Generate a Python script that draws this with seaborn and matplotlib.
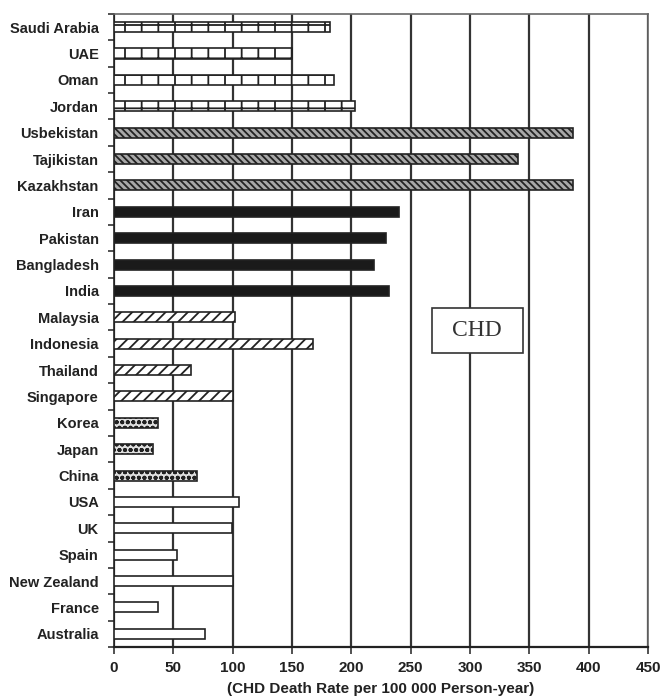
import numpy as np
import pandas as pd
import matplotlib
matplotlib.use("Agg")
import matplotlib.pyplot as plt
import seaborn as sns

countries = ['Saudi Arabia', 'UAE', 'Oman', 'Jordan',
             'Usbekistan', 'Tajikistan', 'Kazakhstan',
             'Iran', 'Pakistan', 'Bangladesh', 'India',
             'Malaysia', 'Indonesia', 'Thailand', 'Singapore',
             'Korea', 'Japan', 'China',
             'USA', 'UK', 'Spain', 'New Zealand', 'France', 'Australia']
death_rate = [182, 150, 185, 203,
              387, 340, 387,
              240, 229, 219, 232,
              102, 168, 65, 100,
              37, 33, 70,
              105, 99, 53, 100, 37, 77]
region = ['Middle East'] * 4 + ['Central Asia'] * 3 + ['South Asia'] * 4 + \
         ['South-East Asia'] * 4 + ['East Asia'] * 3 + ['West'] * 6

region_style = {
    'Middle East': ('white', '+'),
    'Central Asia': ('#a8a8a8', '\\\\\\\\\\'),
    'South Asia': ('#1a1a1a', ''),
    'South-East Asia': ('white', '///'),
    'East Asia': ('#e0e0e0', 'ooo'),
    'West': ('white', ''),
}

df = pd.DataFrame({'country': countries, 'rate': death_rate, 'region': region})

sns.set_style('white')
plt.rcParams['font.family'] = ['Liberation Sans', 'DejaVu Sans']
plt.rcParams['hatch.linewidth'] = 1.3
plt.rcParams['hatch.color'] = '#222222'

fig = plt.figure(figsize=(6.64, 6.97), dpi=100)
ax = fig.add_axes([0.1717, 0.0717, 0.8043, 0.9083])

sns.barplot(data=df, x='rate', y='country', orient='h', color='white',
            width=0.38, edgecolor='#222222', linewidth=1.2, ax=ax, zorder=3)

for patch, reg in zip(ax.patches, region):
    fc, hatch = region_style[reg]
    patch.set_facecolor(fc)
    patch.set_hatch(hatch)

ax.set_xlim(0, 450)
ax.set_ylim(len(countries) - 0.5, -0.5)
ax.set_xticks(np.arange(0, 451, 50))
ax.xaxis.grid(True, color='#333333', linewidth=1.6, zorder=0)
ax.set_axisbelow(True)

ax.set_yticks(np.arange(len(countries)))
ax.set_yticklabels(countries)
ax.set_yticks(np.arange(len(countries) + 1) - 0.5, minor=True)
ax.tick_params(axis='y', which='major', length=0, pad=11, labelsize=10.5, labelcolor='#222222')
ax.tick_params(axis='y', which='minor', length=4, width=1.2, color='#333333', left=True)
ax.tick_params(axis='x', length=5, width=1.2, color='#333333', labelsize=11,
               labelcolor='#222222', pad=5, bottom=True)
for lab in ax.get_yticklabels() + ax.get_xticklabels():
    lab.set_fontweight('bold')

for side, sp in ax.spines.items():
    sp.set_visible(True)
    sp.set_color('#666666')
    sp.set_linewidth(1.2)
ax.spines['bottom'].set_color('#222222')
ax.spines['bottom'].set_linewidth(1.6)
ax.spines['left'].set_color('#222222')

ax.set_ylabel('')
ax.set_xlabel('(CHD Death Rate per 100 000 Person-year)', fontsize=11,
              fontweight='bold', color='#222222', labelpad=5)

# CHD label box
ax.add_patch(plt.Rectangle((0.595, 0.4645), 0.170, 0.071, transform=ax.transAxes,
                           facecolor='white', edgecolor='#333333', linewidth=1.2, zorder=5))
ax.text(0.68, 0.5, 'CHD', transform=ax.transAxes, ha='center', va='center',
        fontsize=17, family='Liberation Serif', color='#333333', zorder=6)

fig.savefig('out.png', dpi=100)
